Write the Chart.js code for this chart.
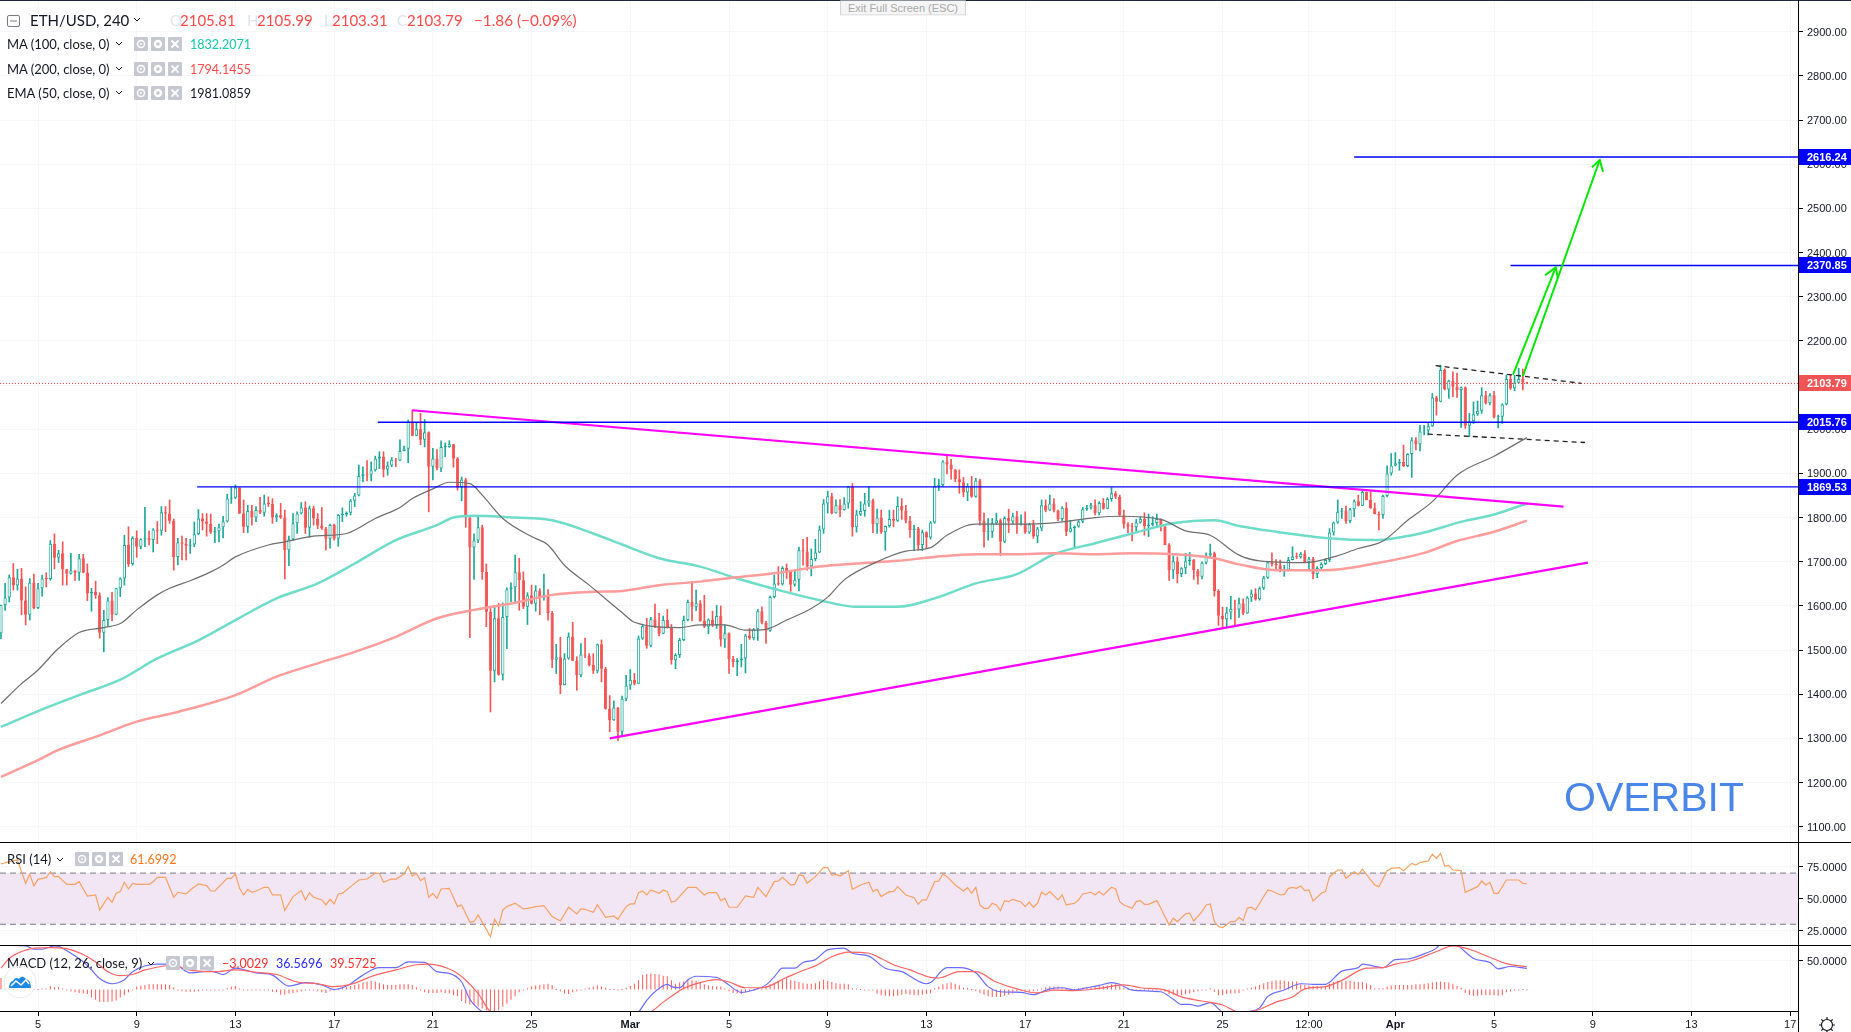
<!DOCTYPE html>
<html>
<head>
<meta charset="utf-8">
<title>ETH/USD, 240</title>
<script src="https://cdn.jsdelivr.net/npm/chart.js@4/dist/chart.umd.min.js"></script>
<style>
    html, body { margin: 0; padding: 0; background: #fff; overflow: hidden; }
    canvas { position: absolute; left: 0; }
    svg { display: block; }
    .txt { position: absolute; white-space: nowrap; transform: translateY(-50%); font-family: Lato, sans-serif; z-index: 3; }
    .ico { position: absolute; z-index: 3; }
    .rule { position: absolute; background: #000; z-index: 2; }
</style>
</head>
<body>
<canvas id="mainChart" width="1851" height="842" style="top:0"></canvas>
<canvas id="rsiChart" width="1851" height="103" style="top:842px"></canvas>
<canvas id="macdChart" width="1851" height="87" style="top:945px"></canvas>
<script>
// bars are 4h candles, bar 0 = 5 Feb 00:00
const firstBar = -9;
const firstOpen = 1538;

const barCloses = [
    1602,1619,1665,1646,1662,1612,1580,1653,1595,1640,1662,1661,1741,1709,1719,1683,1673,1680,1675,1708,1675,1628,1632,1624,1539,1568,1612,1580,1640,1662,
    1738,1695,1754,1734,1751,1753,1749,1773,1770,1812,1809,1793,1711,1744,1741,1736,1739,1762,1798,1791,1786,1766,1769,1778,1791,1843,1845,1868,1809,1779,
    1815,1800,1817,1811,1832,1831,1800,1805,1800,1726,1751,1787,1809,1823,1777,1821,1798,1782,1775,1752,1783,1752,1806,1807,1811,1838,1850,1894,1898,1897,1907,1934,
    1938,1909,1918,1931,1929,1951,1956,2017,1985,2000,1976,1993,1915,1934,1911,1960,1960,1966,1934,1868,1886,1800,1732,1748,1778,1677,1587,1453,1572,1444,
    1575,1638,1642,1676,1658,1598,1624,1605,1635,1619,1626,1584,1478,1484,1421,1481,1531,1476,1443,1490,1488,1466,1453,1513,1458,1367,1341,1370,1315,1390,
    1420,1433,1424,1526,1554,1510,1570,1554,1537,1568,1551,1477,1489,1523,1568,1609,1598,1606,1566,1553,1569,1557,1577,1524,1538,1480,1473,1477,1481,1533,1527,
    1547,1588,1562,1544,1620,1651,1649,1686,1677,1648,1659,1726,1723,1690,1706,1721,1773,1832,1848,1810,1828,1817,1832,1870,1778,1807,1815,1832,1839,1785,
    1800,1767,1781,1797,1793,1826,1816,1793,1772,1775,1738,1767,1755,1789,1871,1874,1927,1920,1909,1887,1880,1857,1871,1847,1884,1793,1767,1768,1787,1794,
    1745,1799,1791,1803,1785,1786,1766,1785,1757,1775,1828,1816,1832,1816,1797,1822,1768,1776,1780,1791,1819,1822,1828,1810,1833,1820,1842,1855,1847,1805,1785,
    1779,1778,1789,1797,1781,1784,1788,1797,1779,1738,1680,1701,1672,1685,1701,1705,1680,1666,1698,1714,1719,1634,1578,1570,1585,1593,1592,1606,1583,1619,
    1628,1615,1640,1664,1699,1695,1692,1678,1682,1704,1712,1710,1718,1699,1707,1672,1686,1695,1704,1766,1789,1813,1816,1792,1819,1837,1827,1858,1840,1821,
    1808,1806,1849,1900,1918,1923,1926,1917,1944,1975,1966,1995,1997,2007,2072,2062,2134,2090,2110,2096,2089,2095,2008,2018,2034,2042,2077,2059,2077,2027,
    2028,2056,2114,2092,2105,2114,2105.81,2103.79
];
const barHighs = [
    1602,1651,1670,1696,1683,1685,1643,1662,1672,1651,1670,1675,1748,1763,1726,1745,1683,1719,1680,1717,1717,1695,1640,1656,1630,1590,1619,1631,1640,1664,
    1760,1779,1757,1770,1752,1823,1770,1775,1791,1825,1825,1840,1797,1753,1758,1753,1751,1790,1818,1809,1809,1808,1778,1785,1803,1853,1868,1874,1868,1840,
    1828,1828,1825,1846,1851,1847,1843,1809,1832,1817,1758,1809,1813,1834,1836,1826,1826,1809,1823,1778,1785,1785,1807,1822,1813,1841,1855,1919,1915,1929,1926,1939,
    1949,1949,1926,1936,1934,1976,1962,2021,2042,2015,2036,2022,1994,1957,1954,1974,1969,1974,1966,1936,1892,1889,1805,1763,1805,1783,1695,1596,1601,1606,
    1607,1641,1652,1715,1708,1677,1630,1647,1646,1639,1672,1637,1588,1513,1529,1492,1539,1563,1485,1515,1527,1492,1492,1514,1523,1461,1397,1385,1370,1396,
    1443,1456,1447,1532,1557,1572,1574,1604,1583,1577,1592,1558,1492,1527,1577,1613,1655,1636,1612,1624,1571,1588,1601,1600,1557,1539,1486,1481,1513,1536,1549,
    1549,1592,1598,1565,1622,1670,1689,1689,1695,1681,1681,1733,1751,1755,1729,1751,1781,1841,1860,1855,1840,1841,1845,1871,1877,1817,1836,1855,1870,1842,
    1819,1817,1781,1817,1817,1847,1843,1828,1803,1783,1778,1772,1768,1791,1889,1887,1929,1942,1932,1909,1908,1891,1877,1893,1889,1887,1810,1798,1798,1810,
    1797,1802,1819,1810,1814,1806,1813,1787,1794,1778,1840,1840,1851,1843,1817,1825,1834,1794,1781,1793,1823,1828,1832,1840,1836,1843,1845,1868,1859,1851,1817,
    1788,1787,1796,1802,1811,1808,1802,1808,1797,1781,1741,1713,1711,1687,1719,1721,1705,1683,1700,1720,1740,1722,1637,1597,1597,1622,1613,1618,1616,1621,
    1636,1639,1643,1667,1701,1720,1705,1704,1692,1710,1734,1720,1721,1725,1710,1710,1689,1698,1707,1775,1790,1840,1821,1826,1821,1840,1851,1861,1858,1861,
    1833,1813,1851,1917,1945,1947,1932,1964,1945,1981,1981,2009,2009,2013,2081,2075,2145,2137,2111,2130,2127,2096,2096,2036,2062,2064,2094,2086,2081,2086,
    2032,2058,2123,2123,2122,2138,2136,2105.99
];
const barLows = [
    1526,1590,1609,1636,1636,1580,1557,1568,1593,1594,1622,1643,1658,1684,1698,1647,1647,1672,1658,1658,1675,1612,1588,1617,1527,1496,1554,1566,1580,1621,
    1647,1689,1692,1710,1729,1734,1738,1722,1741,1760,1768,1787,1681,1693,1704,1704,1719,1734,1761,1772,1758,1764,1743,1745,1754,1790,1832,1843,1809,1766,
    1766,1783,1791,1809,1803,1825,1787,1791,1798,1661,1691,1748,1764,1808,1764,1755,1783,1775,1773,1726,1731,1749,1735,1791,1803,1806,1825,1849,1881,1883,1883,1905,
    1911,1892,1896,1915,1915,1929,1951,1924,1985,1985,1965,1960,1813,1885,1908,1904,1938,1959,1914,1862,1838,1778,1528,1660,1743,1660,1553,1360,1428,1443,
    1432,1503,1609,1609,1590,1594,1558,1604,1588,1580,1613,1568,1460,1447,1401,1425,1479,1476,1409,1439,1483,1464,1447,1448,1428,1366,1315,1341,1295,1305,
    1385,1411,1421,1436,1524,1504,1507,1551,1532,1539,1550,1468,1458,1483,1521,1566,1566,1589,1565,1551,1537,1553,1549,1509,1506,1447,1462,1442,1462,1448,1524,
    1523,1522,1559,1515,1542,1618,1647,1647,1662,1633,1645,1634,1692,1681,1668,1702,1720,1764,1810,1808,1810,1802,1819,1821,1758,1767,1804,1803,1825,1766,
    1764,1764,1726,1778,1779,1791,1796,1788,1755,1725,1726,1725,1730,1751,1787,1861,1871,1899,1887,1881,1855,1847,1838,1846,1846,1783,1733,1749,1755,1784,
    1714,1743,1766,1785,1764,1783,1764,1764,1753,1743,1770,1813,1816,1813,1793,1793,1759,1767,1734,1778,1788,1816,1819,1806,1806,1819,1822,1837,1843,1803,1776,
    1766,1747,1767,1787,1760,1757,1781,1779,1770,1738,1658,1662,1652,1666,1673,1692,1660,1649,1661,1695,1711,1622,1556,1548,1551,1570,1554,1574,1580,1583,
    1610,1613,1613,1637,1662,1690,1684,1677,1667,1681,1704,1707,1708,1698,1681,1661,1664,1680,1693,1700,1760,1787,1798,1787,1788,1802,1826,1828,1840,1821,
    1808,1772,1798,1847,1896,1917,1907,1915,1915,1891,1953,1951,1987,1987,2006,2032,2062,2089,2070,2074,2072,2004,2002,1983,2013,2031,2036,2057,2055,2025,
    2003,2013,2055,2090,2087,2104,2089,2103.31
];

const ma100Bars = [-9,0,10,20,29,39,48,58,68,77,87,97,101,106,116,125,135,142,151,161,170,180,190,199,209,218,228,238,247,257,266,276,286,292,301,313,325,337,345,354,362];
const ma100Values = [1326,1362,1398,1433,1481,1522,1568,1617,1651,1696,1749,1783,1800,1804,1800,1794,1764,1739,1708,1689,1662,1636,1613,1598,1598,1617,1651,1672,1717,1742,1764,1787,1794,1781,1768,1754,1749,1766,1788,1807,1832];

const ma200Bars = [-9,0,5,15,24,34,48,58,68,77,87,97,106,116,125,135,142,151,161,170,180,190,199,209,218,228,238,247,257,266,276,286,292,301,313,325,337,345,354,362];
const ma200Values = [1213,1251,1274,1307,1338,1360,1398,1440,1470,1496,1530,1572,1591,1607,1625,1632,1634,1647,1655,1665,1675,1689,1696,1702,1711,1717,1717,1719,1717,1719,1717,1708,1694,1681,1681,1696,1720,1747,1768,1793];

const emaBars = [-9,-4,0,5,10,16,20,24,29,32,37,42,45,48,56,60,67,75,82,88,91,96,100,105,108,113,120,124,128,134,142,145,156,161,167,172,177,182,188,192,196,204,211,217,221,228,238,247,257,263,273,279,285,292,297,308,315,321,327,333,339,345,354,362];
const emaValues = [1379,1424,1455,1504,1540,1551,1560,1591,1625,1640,1657,1677,1692,1711,1738,1745,1758,1764,1798,1823,1843,1865,1880,1877,1851,1798,1757,1738,1692,1647,1585,1563,1551,1557,1557,1545,1547,1568,1594,1620,1659,1700,1724,1732,1760,1785,1785,1788,1800,1803,1796,1770,1760,1715,1702,1698,1711,1730,1747,1794,1836,1896,1939,1981];

const priceTicks = [1100,1200,1300,1400,1500,1600,1700,1800,1900,2000,2100,2200,2300,2400,2500,2600,2700,2800,2900];
const timeTickBars = [0,24,48,72,96,120,144,168,192,216,240,264,288,309,330,354,378,402,426];
const timeTickLabels = ['5','9','13','17','21','25','Mar','5','9','13','17','21','25','12:00','Apr','5','9','13','17'];

const tagPrices = [2616.24,2370.85,2103.79,2015.76,1869.53];
const tagColors = ['#0000ff','#0000ff','#f05454','#0000ff','#0000ff'];

// drawn levels: where each one starts, they all run to the axis
const levelPrices = [2616.24,2370.85,2015.76,1869.53];
const levelStartBars = [320,358,82.6,38.7];

const fallingTrendBars = [90.9,370.9];
const fallingTrendPrices = [2043,1825];
const risingTrendBars = [139,376.8];
const risingTrendPrices = [1300,1698];
const flagTopBars = [339.8,375.2];
const flagTopPrices = [2144,2104];
const flagBottomBars = [337.9,376.1];
const flagBottomPrices = [1989,1970];

const shortArrowBars = [358.6,369];
const shortArrowPrices = [2123,2366.5];
const shortHeadBars = [366.4,369,369.5];
const shortHeadPrices = [2348.5,2366.5,2341.6];
const longArrowBars = [361,379.7];
const longArrowPrices = [2120,2609.5];
const longHeadBars = [377.8,379.7,380.5];
const longHeadPrices = [2593,2609.5,2583];

const rsiTicks = [25,50,75];
const rsiBars = [-9,-7,-5,-4,-3,-2,-1,0,2,3,4,5,7,9,10,12,14,15,17,18,19,20,21,22,23,24,27,28,29,31,33,34,36,37,39,41,42,43,46,47,48,49,50,51,52,53,55,56,57,59,60,62,64,65,66,67,69,70,71,72,73,74,76,78,80,82,83,84,86,87,89,90,91,92,93,94,95,96,97,98,100,102,103,105,106,107,110,111,112,113,114,116,118,120,121,123,125,127,129,131,132,133,135,136,138,140,141,142,
    143,144,145,146,147,148,149,151,152,153,154,155,158,160,162,163,165,166,167,168,170,172,174,175,177,179,180,181,183,184,185,186,187,189,191,192,193,194,195,197,198,200,202,203,204,205,207,208,209,211,213,214,215,216,218,219,220,221,223,225,226,227,228,229,230,231,232,233,234,235,236,237,239,240,241,242,243,244,245,246,248,249,250,252,253,254,256,257,258,259,261,262,263,264,266,267,268,269,270,272,273,275,276,277,279,280,281,283,284,285,286,287,288,290,291,292,
    293,294,295,296,299,300,302,303,304,305,306,307,308,309,310,312,313,314,316,317,318,320,321,322,324,325,326,328,329,331,332,334,335,336,338,339,340,341,342,343,344,346,347,350,351,352,353,354,355,357,360,361,362];
const rsiValues = [77.1,79,80.2,71.1,62,69,60,65.1,66.4,71.1,67.2,67.2,61.2,61.2,63.3,52.1,52.9,41.2,51.1,47.2,54.2,55.5,62.8,57.6,62,61.2,61.2,63.3,66.7,66.7,51.1,55,53.7,56.8,61.5,60.2,56,56,65.9,65.9,69.3,58.1,52.9,57.3,55,56,58.9,58.9,52.9,52.9,40.7,51.6,56.3,49,54.7,51.1,49,45.1,49.5,45.9,53.7,54.2,59.4,64.6,65.4,69.8,69.8,62.8,65.4,65.1,69.3,75,67.7,69.8,64.1,66.4,51.1,54.2,50.3,57.6,58.1,43.8,45.1,31.5,32,37.3,20.4,33.9,28.7,41.2,43.8,46.4,42,43,43.8,44.6,36,32.6,43.3,38.1,42,41.7,39.4,45.3,35.4,36.5,33.9,39.1,
    43.8,45.9,45.9,54.7,56,52.9,56.8,54.2,56.8,55.5,47.2,48.2,58.9,58.9,52.9,54.7,54.7,48.5,50.3,43.3,43.3,52.1,51.1,58.9,51.6,63.3,63.8,66.7,60.7,61.2,68.5,68,62,67.2,74.5,74.3,68.5,69,67.7,71.9,57.3,60.7,62.8,55.5,57.3,51.6,55.5,55.5,59.4,52.9,50.8,45.6,49,49,63.3,63.8,69.3,67.2,60.7,56,58.6,54.2,58.9,45.1,42.5,42.5,46.4,45.1,40.7,48.5,47.7,49.5,47.4,43.8,47.4,43.3,46.4,55,52.9,55.5,49,52.9,45.1,46.4,49,53.7,55,52.9,55.5,52.9,58.9,57.6,47.7,45.1,42.5,47.7,48.5,45.6,45.6,48.5,42.5,29.5,34.7,32.1,38.1,38.6,32.6,39.9,45.1,45.9,32.1,28.2,27.4,32.1,32.1,35.4,
    32.9,42.5,43.3,41.2,56.8,56,52.9,53.4,58.1,58.9,58.1,59.9,56.3,56.8,48.2,54.2,55.5,67.2,72.4,72.4,65.9,71.1,69,73,64.6,60.7,59.4,71.9,73.7,74.3,71.9,77.6,76.3,78.2,79.5,84.7,81.5,85.4,75.5,76.1,72.4,71.9,55,59.4,63.8,60.7,62.8,54.2,54.2,64.6,64.6,62,61.7];
const rsiBandTop = 70;
const rsiBandBottom = 30;

const macdTicks = [50];
const macdBars = [-9,-7,-3,-1,1,4,5,8,11,13,15,18,21,23,29,33,37,42,45,48,53,57,61,65,69,72,75,79,83,87,90,94,97,100,103,105,108,112,118,125,135,142,
    146,148,150,153,154,156,158,160,165,167,171,174,177,179,181,184,186,189,192,196,198,202,206,210,216,217,221,224,228,231,234,239,242,246,249,252,255,258,261,263,266,273,276,278,280,282,285,288,291,
    294,297,299,303,307,310,313,317,321,322,327,330,333,337,340,341,344,346,349,353,355,358,362];
const macdValues = [92,77,76,70,70,76,75,63,48,34,19,10,17,31,44,44,29,32,26,37,29,25,6,12,8,0,6,25,38,38,48,47,31,28,13,-17,-39,-55,-64,-70,-62,-50,
    -39,-19,-4,9,5,3,17,23,21,13,-5,-1,8,22,37,37,47,52,69,72,63,58,37,31,10,12,38,38,29,5,-4,-5,-9,1,3,-1,3,7,12,9,-1,-4,-17,-26,-26,-29,-23,-40,-46,
    -39,-32,-12,-1,10,9,9,32,38,44,38,52,53,62,72,80,86,72,54,47,36,40,36.6];
const signalBars = [-9,-7,-4,-1,3,7,11,14,17,20,23,26,30,33,36,43,48,53,58,63,68,72,76,82,87,92,95,101,104,107,110,120,130,140,
    149,152,155,157,161,165,168,172,176,182,186,189,193,197,202,205,208,212,217,219,224,228,233,238,243,247,252,258,264,268,274,278,283,288,292,
    296,301,305,308,313,317,323,327,330,334,340,344,348,354,357,362];
const signalValues = [37,54,66,72,73,71,61,48,31,24,26,34,40,43,35,31,34,30,26,13,10,5,9,25,34,43,44,32,16,-7,-39,-62,-68,-58,
    -39,-22,-7,2,12,17,13,3,3,21,33,41,57,65,63,54,43,34,21,20,31,31,13,1,-6,-1,-2,2,8,3,-1,-13,-20,-27,-39,
    -37,-22,-13,1,5,16,37,38,44,50,66,76,70,53,45,39.6];
const macdHist = [
    20,1,0,0,0,1,1,1,0,0,1,1,6,4,4,1,-2,-3,-5,-6,-7,-8,-14,-18,-22,-22,-22,-21,-19,-14,-10,-5,-2,5,7,8,9,9,9,9,9,8,4,-1,-3,-4,-4,-4,-3,-2,
    -1,-1,-1,-1,-1,2,5,6,1,-1,-1,-1,-1,-1,-1,-2,-4,-5,-9,-9,-7,-6,-5,-3,-2,-1,-2,-3,-5,-6,-3,-1,0,2,4,6,8,10,12,14,15,14,11,9,8,8,8,9,9,9,
    8,4,-2,-5,-6,-6,-6,-5,-6,-7,-10,-12,-20,-24,-26,-27,-30,-33,-36,-38,-39,-36,-30,-25,-18,-12,-5,-1,2,5,7,8,9,10,8,0,-3,-7,-8,-5,-3,-1,1,3,5,7,5,3,0,0,-1,
    0,3,6,10,16,25,27,28,27,26,24,23,16,10,12,14,16,16,15,12,9,7,6,5,5,1,-3,-6,-7,-8,-5,-3,-1,2,4,6,9,11,15,17,19,17,15,13,11,10,10,11,14,17,15,13,11,10,10,9,
    2,1,0,-1,-2,-2,-7,-10,-11,-12,-12,-11,-9,-8,-9,-10,-10,-9,-8,-7,2,5,9,11,12,10,7,3,2,0,-3,-6,-9,-12,-13,-13,-13,-11,-9,-7,-4,-2,-3,-4,-3,-1,1,4,5,5,5,3,0,0,0,2,3,4,4,5,6,6,7,9,9,6,3,1,0,-1,-2,-2,-2,-1,-1,-1,-4,-8,-9,-10,-10,-8,-7,-5,-3,-2,-1,2,-4,-10,-10,-8,-7,-7,-6,
    -1,1,3,5,8,11,13,15,16,16,15,14,14,14,9,8,7,6,6,5,5,10,13,15,15,15,15,14,13,13,11,8,2,2,2,5,7,8,8,8,8,8,9,9,10,11,12,13,14,13,12,10,6,3,-6,-9,-11,-11,-10,-10,-10,-10,-11,-10,-5,-3,-2,-1,0,-1
];

if (barHighs.length !== barCloses.length || barLows.length !== barCloses.length || macdHist.length !== barCloses.length) {
    throw new Error('bar arrays differ: ' + [barCloses.length, barHighs.length, barLows.length, macdHist.length].join(' '));
}

const xMin = -9.24;
const xMax = 427.9;
const gridColor = '#f6f7fa';
const axisFont = {family: '"Liberation Sans", Arial, sans-serif', size: 11};
const upColor = '#1fa898';
const downColor = '#f25555';

function zip(xs, ys) {
    return xs.map((x, i) => ({x: x, y: ys[i]}));
}

function lineSet(xs, ys, color, width, dash, order) {
    return {
        type: 'line',
        data: zip(xs, ys),
        borderColor: color,
        borderWidth: width,
        borderDash: dash || [],
        pointRadius: 0,
        tension: 0,
        fill: false,
        order: order
    };
}

// moving averages are smooth in the reference, so round off the corners
function smoothSet(xs, ys, color, width, order) {
    const set = lineSet(xs, ys, color, width, null, order);
    set.cubicInterpolationMode = 'monotone';
    return set;
}

function xScale(showLabels) {
    return {
        type: 'linear',
        min: xMin,
        max: xMax,
        offset: false,
        grid: {color: gridColor, offset: false, drawTicks: showLabels, tickLength: 4, tickColor: '#000'},
        border: {display: false},
        afterBuildTicks: scale => { scale.ticks = timeTickBars.map(v => ({value: v})); },
        ticks: {
            display: showLabels,
            autoSkip: false,
            maxRotation: 0,
            padding: 2,
            color: '#131722',
            font: ctx => ctx.index === 6 || ctx.index === 14 ? Object.assign({}, axisFont, {weight: 'bold'}) : axisFont,
            callback: value => timeTickLabels[timeTickBars.indexOf(value)]
        },
        afterFit: scale => {
            scale.height = showLabels ? 20 : 0;
            scale.paddingLeft = 0;
            scale.paddingRight = 0;
        }
    };
}

function yScale(min, max, tickList, decimals) {
    return {
        position: 'right',
        min: min,
        max: max,
        grid: {color: gridColor, tickLength: 5, tickColor: '#000'},
        border: {display: false},
        afterBuildTicks: scale => { scale.ticks = tickList.map(v => ({value: v})); },
        ticks: {
            autoSkip: false,
            padding: 4,
            labelOffset: 1,
            color: '#131722',
            font: axisFont,
            callback: value => value.toFixed(decimals)
        },
        afterFit: scale => {
            scale.width = 53;
            scale.paddingTop = 0;
            scale.paddingBottom = 0;
        }
    };
}

function baseOptions(xOpts, yOpts) {
    return {
        responsive: false,
        animation: false,
        events: [],
        layout: {padding: 0},
        plugins: {legend: {display: false}, tooltip: {enabled: false}},
        scales: {x: xOpts, y: yOpts}
    };
}

///////////////////////////////////////////////////////////////////////////////
// PRICE PANE
///////////////////////////////////////////////////////////////////////////////

const barX = barCloses.map((c, i) => firstBar + i);
const barOpens = barCloses.map((c, i) => i === 0 ? firstOpen : barCloses[i - 1]);
const isUp = barCloses.map((c, i) => c >= barOpens[i]);

const priceTagPlugin = {
    id: 'priceTags',
    afterDraw(chart) {
        const ctx = chart.ctx;
        const yAxis = chart.scales.y;
        ctx.save();
        ctx.textBaseline = 'middle';
        ctx.textAlign = 'left';
        ctx.font = 'bold 11px "Liberation Sans", Arial, sans-serif';
        tagPrices.forEach((price, i) => {
            const y = Math.round(yAxis.getPixelForValue(price));
            ctx.fillStyle = tagColors[i];
            ctx.fillRect(chart.chartArea.right, y - 8, 53, 16);
            ctx.fillStyle = '#fff';
            ctx.fillText(price.toFixed(2), chart.chartArea.right + 9, y + 0.5);
        });
        ctx.restore();
    }
};

const mainDatasets = [
    {
        label: 'wicks',
        data: barX.map((x, i) => ({x: x, y: [Math.min(barLows[i], barOpens[i], barCloses[i]), Math.max(barHighs[i], barOpens[i], barCloses[i])]})),
        backgroundColor: isUp.map(up => up ? upColor : downColor),
        grouped: false,
        barPercentage: 1,
        categoryPercentage: 1,
        maxBarThickness: 1,
        borderWidth: 0,
        order: 11
    },
    {
        label: 'bodies',
        data: barX.map((x, i) => ({x: x, y: [barOpens[i], barCloses[i]]})),
        backgroundColor: isUp.map(up => up ? '#fff' : downColor),
        borderColor: isUp.map(up => up ? upColor : downColor),
        borderWidth: 1,
        borderSkipped: false,
        grouped: false,
        barPercentage: 0.8,
        categoryPercentage: 1,
        minBarLength: 1,
        order: 10
    },
    smoothSet(ma100Bars, ma100Values, '#6fdcc9', 2.5, 6),
    smoothSet(ma200Bars, ma200Values, '#ff9c9c', 2.5, 5),
    smoothSet(emaBars, emaValues, '#6e6e6e', 1.2, 4),
    lineSet([xMin, xMax], [2103.79, 2103.79], '#ee3c3c', 1, [1, 2], 3),
    lineSet(fallingTrendBars, fallingTrendPrices, '#ff00ff', 2.2, null, 2),
    lineSet(risingTrendBars, risingTrendPrices, '#ff00ff', 2.2, null, 2),
    lineSet(flagTopBars, flagTopPrices, '#222', 1.3, [5, 4], 2),
    lineSet(flagBottomBars, flagBottomPrices, '#222', 1.3, [5, 4], 2),
    lineSet(shortArrowBars, shortArrowPrices, '#00e600', 2, null, 1),
    lineSet(shortHeadBars, shortHeadPrices, '#00e600', 2, null, 1),
    lineSet(longArrowBars, longArrowPrices, '#00e600', 2, null, 1),
    lineSet(longHeadBars, longHeadPrices, '#00e600', 2, null, 1)
];
levelPrices.forEach((price, i) => {
    mainDatasets.push(lineSet([levelStartBars[i], xMax], [price, price], '#0000ff', 1.4, null, 1));
});

new Chart(document.getElementById('mainChart'), {
    type: 'bar',
    data: {datasets: mainDatasets},
    options: baseOptions(xScale(false), yScale(1065.5, 2971.8, priceTicks, 2)),
    plugins: [priceTagPlugin]
});

///////////////////////////////////////////////////////////////////////////////
// RSI PANE
///////////////////////////////////////////////////////////////////////////////

const bandTop = lineSet([xMin, xMax], [rsiBandTop, rsiBandTop], '#787b86', 1, [6, 4], 3);
bandTop.fill = {value: rsiBandBottom};
bandTop.backgroundColor = '#f2e5f4';

new Chart(document.getElementById('rsiChart'), {
    type: 'line',
    data: {datasets: [
        bandTop,
        lineSet([xMin, xMax], [rsiBandBottom, rsiBandBottom], '#787b86', 1, [6, 4], 2),
        lineSet(rsiBars, rsiValues, '#f5a264', 1.2, null, 1)
    ]},
    options: baseOptions(xScale(false), yScale(13.8, 94.3, rsiTicks, 4))
});

///////////////////////////////////////////////////////////////////////////////
// MACD PANE
///////////////////////////////////////////////////////////////////////////////

new Chart(document.getElementById('macdChart'), {
    type: 'bar',
    data: {datasets: [
        {
            label: 'histogram',
            data: zip(barX, macdHist),
            backgroundColor: '#ff5a5a',
            grouped: false,
            barPercentage: 1,
            categoryPercentage: 1,
            maxBarThickness: 1,
            minBarLength: 1,
            borderWidth: 0,
            inflateAmount: 0,
            order: 3
        },
        smoothSet(macdBars, macdValues, '#6b6bff', 1.2, 2),
        smoothSet(signalBars, signalValues, '#ff6464', 1.2, 1)
    ]},
    options: baseOptions(xScale(true), yScale(-39.2, 77.4, macdTicks, 4))
});

///////////////////////////////////////////////////////////////////////////////
// HEADER TEXT, ICONS, FRAME
///////////////////////////////////////////////////////////////////////////////

function addText(text, x, y, color, size) {
    var tag = document.createElement('span');
    tag.className = 'txt';
    tag.appendChild(document.createTextNode(text));
    tag.style.left = x + 'px';
    tag.style.top = y + 'px';
    tag.style.color = color;
    tag.style.fontSize = size + 'px';
    document.body.appendChild(tag);
    return tag;
}

function addSvg(markup, x, y, w, h) {
    var tag = document.createElement('div');
    tag.className = 'ico';
    tag.style.left = x + 'px';
    tag.style.top = y + 'px';
    tag.innerHTML = '<svg width="' + w + '" height="' + h + '" viewBox="0 0 ' + w + ' ' + h + '">' + markup + '</svg>';
    document.body.appendChild(tag);
}

function addRule(x, y, w, h) {
    var tag = document.createElement('div');
    tag.className = 'rule';
    tag.style.cssText = 'left:' + x + 'px;top:' + y + 'px;width:' + w + 'px;height:' + h + 'px';
    document.body.appendChild(tag);
    return tag;
}

function addChevron(x, y) {
    addSvg('<path d="M1 1 L4 4 L7 1" fill="none" stroke="#131722" stroke-width="1"/>', x - 4, y - 3, 8, 6);
}

function addButtons(x, y) {
    var box = '<rect width="14" height="14" rx="1" fill="#c5c8d0"/>';
    addSvg(box + '<circle cx="7" cy="7" r="3.5" fill="none" stroke="#fff" stroke-width="1.5"/><circle cx="7" cy="7" r="1" fill="#fff"/>', x, y - 7, 14, 14);
    addSvg(box + '<circle cx="7" cy="7" r="3" fill="none" stroke="#fff" stroke-width="2.4"/>', x + 17, y - 7, 14, 14);
    addSvg(box + '<path d="M3.5 3.5 L10.5 10.5 M10.5 3.5 L3.5 10.5" stroke="#fff" stroke-width="1.8"/>', x + 34, y - 7, 14, 14);
}

const inkColor = '#131722';
const lossColor = '#ff4a4a';
const faintColor = '#e0e3eb';

addSvg('<rect x="0.5" y="0.5" width="12" height="11" rx="1.5" fill="none" stroke="#787b86"/><path d="M3 6 H10" stroke="#787b86"/>', 7, 15, 13, 12);
addText('ETH/USD, 240', 30, 20, inkColor, 15);
addChevron(137, 20);
addText('O', 170, 20, faintColor, 15);
addText('2105.81', 180, 20, lossColor, 15);
addText('H', 247, 20, faintColor, 15);
addText('2105.99', 257, 20, lossColor, 15);
addText('L', 324, 20, faintColor, 15);
addText('2103.31', 332, 20, lossColor, 15);
addText('C', 397, 20, faintColor, 15);
addText('2103.79', 407, 20, lossColor, 15);
addText('\u22121.86 (\u22120.09%)', 474, 20, lossColor, 15.3);

const studyRowY = [44, 68.5, 92.5];
const studyNames = ['MA (100, close, 0)', 'MA (200, close, 0)', 'EMA (50, close, 0)'];
const studyValues = ['1832.2071', '1794.1455', '1981.0859'];
const studyColors = ['#14c9a5', '#ff4a4a', '#131722'];
studyNames.forEach((name, i) => {
    addText(name, 7, studyRowY[i], inkColor, 13);
    addChevron(119, studyRowY[i]);
    addButtons(134, studyRowY[i]);
    addText(studyValues[i], 190, studyRowY[i], studyColors[i], 12.5);
});

addText('RSI (14)', 7, 859, inkColor, 13);
addChevron(60, 860);
addButtons(75, 859);
addText('61.6992', 130, 859, '#ff7418', 12.5);

addText('MACD (12, 26, close, 9)', 7, 963, inkColor, 13);
addChevron(151, 964);
addButtons(166, 963);
addText('\u22123.0029', 222, 963, '#ff3030', 12.5);
addText('36.5696', 276, 963, '#2a2aff', 12.5);
addText('39.5725', 330, 963, '#ff3030', 12.5);

// exit full screen button
var exitTag = addText('Exit Full Screen (ESC)', 840, 8, '#a8a8a8', 11);
exitTag.style.cssText += ';width:124px;height:14px;line-height:14px;text-align:center;border:1px solid #d4d4d4;border-top:0;background:#f5f5f5;font-family:"Liberation Sans",Arial,sans-serif';

var brandTag = addText('OVERBIT', 1564, 797, '#4a86e8', 41);
brandTag.style.fontFamily = '"Liberation Sans", Arial, sans-serif';

// logo in the corner of the macd pane
addSvg('<circle cx="17" cy="17" r="16" fill="#fff" fill-opacity="0.7" stroke="#eaeaea"/>' +
    '<path d="M6 23 Q6 17 10 16 Q12 11 16 14 Q19 9 23 14 Q28 15 28 23 Z" fill="#1e88e5"/>' +
    '<path d="M8 21 L13 16 L18 20 L23 15 L26 19" fill="none" stroke="#fff" stroke-width="1.5"/>', 3, 965, 34, 34);

// settings gear under the axis
addSvg('<circle cx="9" cy="9" r="5.5" fill="none" stroke="#131722" stroke-width="1.2"/>' +
    '<path d="M9 1 V3.5 M9 14.5 V17 M1 9 H3.5 M14.5 9 H17 M3.3 3.3 L5.1 5.1 M12.9 12.9 L14.7 14.7 M14.7 3.3 L12.9 5.1 M5.1 12.9 L3.3 14.7" stroke="#131722" stroke-width="1.2"/>', 1818, 1016, 18, 18);

addRule(0, 0, 1851, 1).style.background = '#1e2a3c';
addRule(0, 842, 1851, 1);
addRule(0, 945, 1851, 1);
addRule(0, 1011, 1798, 1);
addRule(1798, 0, 1, 1032);
</script>
</body>
</html>
